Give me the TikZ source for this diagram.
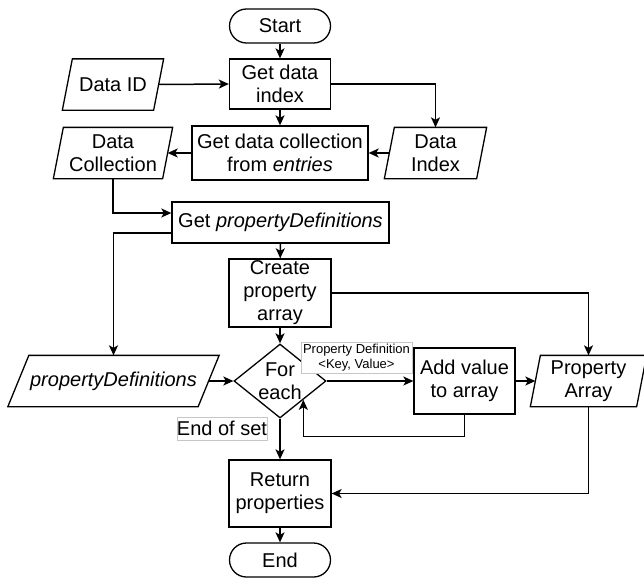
\documentclass[tikz,border=0pt]{standalone}
\usepackage{fontspec}
\setmainfont{Liberation Sans}
\usetikzlibrary{shapes.geometric,arrows.meta}

\newcommand{\bigtxt}{\fontsize{20pt}{23pt}\selectfont}
\newcommand{\smalltxt}{\fontsize{13pt}{14.5pt}\selectfont}

\begin{document}
\begin{tikzpicture}[x=1pt, y=-1pt, line width=1.3pt,
    proc/.style = {rectangle, draw, align=center, inner sep=0, font=\bigtxt},
    term/.style = {rectangle, rounded corners=17pt, draw, align=center, inner sep=0, minimum width=101pt, minimum height=34pt, font=\bigtxt},
    cond/.style = {diamond, draw, align=center, inner sep=0, aspect=1.24, minimum width=92pt, minimum height=74pt, font=\bigtxt},
    io/.style   = {align=center, inner sep=0, minimum height=50pt, font=\bigtxt,
                   append after command={\pgfextra{\draw[line width=1.3pt]
                     ([xshift=#1]\tikzlastnode.north west) -- ([xshift=#1]\tikzlastnode.north east) --
                     ([xshift=-#1]\tikzlastnode.south east) -- ([xshift=-#1]\tikzlastnode.south west) -- cycle;}}},
    io/.default = 5pt,
    lbl/.style  = {draw=black!22, line width=0.6pt, fill=white, align=center, inner sep=0},
    arr/.style  = {line width=1.5pt, -{Stealth[length=10pt, width=9pt, inset=2.5pt]}}]
    \useasboundingbox (0,0) rectangle (644,578);

    \node[term]                                           (start)    at (280,26)    {Start};
    \node[proc, minimum width=101pt, minimum height=50pt] (getidx)   at (280,84)    {Get data\\index};
    \node[io, minimum width=90pt]                         (dataid)   at (113,84.5)  {Data ID};
    \node[proc, minimum width=176pt, minimum height=54pt] (getcoll)  at (280,153)   {Get data collection\\from \textit{entries}};
    \node[io, minimum width=108pt]                        (datacoll) at (113,153)   {Data\\Collection};
    \node[io, minimum width=91pt]                         (dataidx)  at (435.5,153) {Data\\Index};
    \node[proc, minimum width=217pt, minimum height=41pt] (getdefs)  at (280.5,222.5) {Get \textit{propertyDefinitions}};
    \node[proc, minimum width=102pt, minimum height=68pt] (mkarr)    at (280,293)   {Create\\property\\array};
    \node[io=10.5pt, minimum width=189pt]                 (defs)     at (113.5,381) {\textit{propertyDefinitions}};
    \node[cond]                                           (foreach)  at (280,381)   {For\\each};
    \node[proc, minimum width=101pt, minimum height=66pt] (addval)   at (464.5,381) {Add value\\to array};
    \node[io, minimum width=105pt]                        (proparr)  at (588.5,381) {Property\\Array};
    \node[proc, minimum width=102pt, minimum height=67pt] (ret)      at (280,493.5) {Return\\properties};
    \node[term]                                           (end)      at (280,560)   {End};

    \node[lbl, minimum width=111pt, minimum height=31pt, font=\smalltxt] (lblpd)  at (356.5,357.5) {Property Definition\\<Key, Value>};
    \node[lbl, minimum width=90pt, minimum height=23pt, font=\bigtxt]    (lbleos) at (222,428.5)   {End of set};

    \draw[arr] (start) -- (getidx);
    \draw[arr] (dataid.east) -- (getidx.west);
    \draw[arr] (getidx.east) -| (dataidx.north);
    \draw[arr] (getidx) -- (getcoll);
    \draw[arr] (dataidx.west) -- (getcoll.east);
    \draw[arr] (getcoll.west) -- (datacoll.east);
    \draw[arr] (datacoll.south) |- ([yshift=9.5pt]getdefs.west);
    \draw[arr] (getdefs) -- (mkarr);
    \draw[arr] ([yshift=-10.5pt]getdefs.west) -| (defs.north);
    \draw[arr] (mkarr.east) -| (proparr.north);
    \draw[arr] (mkarr) -- (foreach);
    \draw[arr] (defs.east) -- (foreach.west);
    \draw[arr] (foreach.east) -- (addval.west);
    \draw[arr] (addval.east) -- (proparr.west);
    \draw[arr] (addval.south) -- ++(0,22) -| (foreach.south east);
    \draw[arr] (foreach.south) -- (ret.north);
    \draw[arr] (proparr.south) |- (ret.east);
    \draw[arr] (ret) -- (end);
\end{tikzpicture}
\end{document}
